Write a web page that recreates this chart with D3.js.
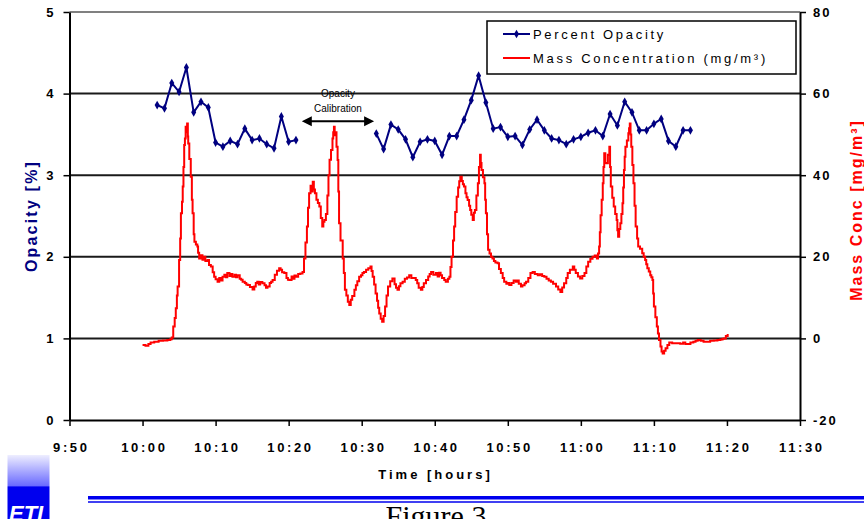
<!DOCTYPE html>
<html>
<head>
<meta charset="utf-8">
<script src="https://cdn.jsdelivr.net/npm/d3@7"></script>
<style>
  html, body { margin: 0; padding: 0; background: #fff; }
  svg { display: block; font-family: Arial, "Liberation Sans", sans-serif; }
</style>
</head>
<body>
<svg id="chart" width="864" height="519"></svg>
<script>
// minutes after 10:00
var xTickMinutes = [-10, 0, 10, 20, 30, 40, 50, 60, 70, 80, 90]
  , xTickLabels = ['9:50', '10:00', '10:10', '10:20', '10:30', '10:40', '10:50', '11:00', '11:10', '11:20', '11:30']
  , opacityTicks = [0, 1, 2, 3, 4, 5]
  , massTicks = [-20, 0, 20, 40, 60, 80]
  ;

// Percent opacity, one reading a minute (null = calibration gap)
var opacityTime = [2, 3, 4, 5, 6, 7, 8, 9, 10, 11, 12, 13, 14, 15, 16, 17, 18, 19, 20, 21,
                   26,
                   32, 33, 34, 35, 36, 37, 38, 39, 40, 41, 42, 43, 44, 45, 46, 47, 48, 49, 50, 51, 52, 53,
                   54, 55, 56, 57, 58, 59, 60, 61, 62, 63, 64, 65, 66, 67, 68, 69, 70, 71, 72, 73, 74, 75]
  , opacityValue = [3.86, 3.82, 4.13, 4.02, 4.32, 3.77, 3.90, 3.83, 3.40, 3.35, 3.42, 3.38, 3.57, 3.43, 3.45, 3.38, 3.33, 3.72, 3.41, 3.43,
                    null,
                    3.51, 3.32, 3.62, 3.56, 3.44, 3.22, 3.41, 3.44, 3.42, 3.25, 3.48, 3.48, 3.68, 3.92, 4.22, 3.89, 3.57, 3.59, 3.47, 3.48, 3.37, 3.56,
                    3.68, 3.55, 3.45, 3.43, 3.38, 3.44, 3.47, 3.52, 3.55, 3.48, 3.75, 3.61, 3.90, 3.77, 3.55, 3.55, 3.63, 3.69, 3.42, 3.35, 3.55, 3.55]
  ;

// Mass concentration (mg/m3)
var massTime = [
    0, 0.4, 0.8, 1.1, 1.6, 2.2, 2.8, 3.4, 3.8, 4.0,
    4.2, 4.4, 4.55, 4.7, 4.8, 5.0, 5.15, 5.25, 5.4, 5.5,
    5.6, 5.7, 5.8, 5.9, 6.0, 6.1, 6.2, 6.25, 6.4, 6.6,
    6.75, 6.85, 7.0, 7.1, 7.3, 7.5, 7.6, 7.75, 8.0, 8.2,
    8.4, 8.6, 8.9, 9.1, 9.35, 9.6, 9.8, 10.0, 10.27, 10.5,
    10.7, 10.95, 11.2, 11.4, 11.6, 11.9, 12.1, 12.3, 12.6, 12.8,
    13.0, 13.3, 13.5, 13.7, 14.0, 14.2, 14.4, 14.7, 15.06, 15.3,
    15.5, 15.7, 15.9, 16.1, 16.4, 16.7, 16.9, 17.1, 17.4, 17.6,
    17.8, 18.1, 18.4, 18.7, 18.9, 19.1, 19.4, 19.7, 19.9, 20.1,
    20.4, 20.6, 20.8, 21.0, 21.3, 21.6, 21.9, 22.1, 22.3, 22.5,
    22.65, 22.8, 23.0, 23.1, 23.3, 23.45, 23.6, 23.8, 24.0, 24.2,
    24.4, 24.6, 24.75, 24.9, 25.1, 25.3, 25.45, 25.6, 25.8, 26.0,
    26.1, 26.2, 26.3, 26.4, 26.55, 26.7, 26.8, 26.9, 27.1, 27.4,
    27.55, 27.7, 27.9, 28.1, 28.3, 28.5, 28.7, 29.0, 29.2, 29.4,
    29.65, 29.9, 30.1, 30.3, 30.6, 30.9, 31.2, 31.35, 31.5, 31.7,
    31.9, 32.1, 32.25, 32.4, 32.6, 32.8, 33.0, 33.2, 33.4, 33.6,
    33.9, 34.2, 34.5, 34.7, 34.9, 35.1, 35.3, 35.6, 35.9, 36.2,
    36.5, 36.8, 37.1, 37.4, 37.6, 37.8, 38.1, 38.3, 38.5, 38.8,
    39.1, 39.3, 39.5, 39.8, 40.15, 40.4, 40.6, 40.8, 41.0, 41.3,
    41.5, 41.8, 42.0, 42.15, 42.3, 42.5, 42.65, 42.8, 43.0, 43.2,
    43.35, 43.5, 43.7, 43.85, 44.0, 44.2, 44.35, 44.5, 44.7, 44.85,
    45.0, 45.2, 45.35, 45.5, 45.7, 45.9, 46.05, 46.2, 46.3, 46.4,
    46.6, 46.8, 46.9, 47.0, 47.15, 47.3, 47.5, 47.7, 47.9, 48.1,
    48.3, 48.6, 48.8, 49.05, 49.3, 49.5, 49.8, 50.0, 50.2, 50.5,
    50.8, 51.1, 51.3, 51.5, 51.8, 52.0, 52.3, 52.5, 52.8, 53.1,
    53.4, 53.7, 54.1, 54.4, 54.7, 55.0, 55.3, 55.6, 55.9, 56.2,
    56.6, 56.9, 57.2, 57.45, 57.7, 58.0, 58.2, 58.5, 58.9, 59.1,
    59.3, 59.6, 59.9, 60.2, 60.5, 60.75, 61.0, 61.3, 61.6, 61.9,
    62.2, 62.35, 62.5, 62.6, 62.7, 62.85, 63.0, 63.1, 63.2, 63.35,
    63.5, 63.7, 63.9, 64.0, 64.1, 64.3, 64.5, 64.7, 64.9, 65.0,
    65.1, 65.25, 65.4, 65.55, 65.7, 65.8, 65.9, 66.0, 66.1, 66.3,
    66.5, 66.6, 66.7, 66.8, 66.9, 67.05, 67.2, 67.35, 67.5, 67.7,
    67.85, 68.1, 68.4, 68.6, 68.8, 68.95, 69.1, 69.3, 69.5, 69.65,
    69.8, 69.9, 70.0, 70.2, 70.4, 70.55, 70.7, 70.9, 71.05, 71.2,
    71.4, 71.6, 71.85, 72.1, 72.5, 72.9, 73.2, 73.6, 74.0, 74.3,
    74.6, 75.0, 75.4, 75.7, 76.0, 76.4, 76.8, 77.3, 77.7, 78.2,
    78.7, 79.1, 79.4, 79.6, 79.85, 80.1
  ]
  , massValue = [
    -1.6, -1.8, -1.4, -1.0, -0.8, -0.6, -0.5, -0.4, -0.2, 0.2,
    2.9, 5.0, 7.4, 10.5, 12.7, 19.2, 24.5, 30.7, 33.5, 37.2,
    42.0, 47.4, 49.0, 51.9, 50.5, 52.7, 49.5, 47.8, 44.0, 39.6,
    34.0, 30.7, 25.5, 23.7, 23.0, 22.5, 21.0, 19.6, 20.4, 19.3,
    20.0, 19.0, 19.2, 18.0, 17.6, 16.2, 15.1, 14.5, 13.9, 14.8,
    14.2, 15.1, 15.6, 15.0, 16.0, 15.3, 15.8, 15.1, 15.6, 15.0,
    15.5, 14.6, 14.4, 13.9, 13.6, 13.2, 13.1, 12.6, 12.0, 12.7,
    13.6, 13.9, 13.2, 13.8, 13.5, 13.0, 12.4, 12.7, 13.6, 13.9,
    14.3, 15.6, 16.6, 17.2, 16.8, 16.2, 16.0, 14.8, 14.4, 14.3,
    15.2, 14.6, 15.4, 15.1, 15.8, 15.9, 16.3, 19.6, 23.5, 27.4,
    32.0, 35.6, 37.4, 36.0, 38.4, 36.5, 35.6, 34.0, 33.2, 32.3,
    29.5, 27.4, 28.6, 29.0, 30.5, 35.0, 40.0, 43.8, 46.2, 49.0,
    50.5, 51.9, 49.8, 50.5, 47.0, 43.7, 36.0, 28.2, 24.0, 19.6,
    16.0, 11.9, 10.5, 9.0, 8.2, 9.5, 10.4, 11.9, 13.0, 14.0,
    15.1, 15.5, 16.0, 16.3, 16.8, 17.2, 17.6, 16.5, 15.1, 13.2,
    11.0, 9.2, 7.5, 6.1, 4.8, 4.1, 5.5, 7.8, 10.5, 12.7,
    14.0, 14.7, 13.3, 12.4, 11.9, 12.8, 13.5, 13.9, 14.6, 14.9,
    15.5, 14.8, 14.8, 14.3, 13.5, 12.4, 11.9, 12.6, 13.5, 14.3,
    15.2, 15.8, 16.3, 15.6, 16.0, 15.2, 16.1, 15.5, 14.8, 14.3,
    13.9, 14.6, 15.1, 17.5, 20.0, 24.0, 27.4, 31.0, 34.7, 37.0,
    38.5, 39.6, 38.6, 37.8, 37.2, 35.6, 34.6, 33.9, 32.5, 31.5,
    30.3, 29.0, 30.8, 31.5, 35.0, 38.0, 42.0, 45.0, 43.0, 41.3,
    39.5, 38.0, 34.0, 30.7, 25.5, 21.7, 20.8, 20.0, 19.6, 19.0,
    18.6, 18.4, 17.0, 16.0, 14.8, 13.9, 13.4, 13.6, 13.1, 13.6,
    14.2, 13.9, 14.2, 13.4, 12.7, 13.0, 13.5, 13.9, 14.8, 16.0,
    16.3, 15.8, 15.5, 15.7, 15.3, 15.1, 14.6, 14.2, 13.9, 13.4,
    12.7, 12.0, 11.4, 12.5, 13.5, 14.8, 16.0, 16.8, 17.6, 16.8,
    16.0, 15.2, 14.7, 15.3, 16.0, 17.6, 18.8, 19.5, 20.0, 20.3,
    19.6, 20.8, 22.5, 26.0, 30.2, 34.0, 38.0, 42.0, 45.4, 43.0,
    42.9, 45.0, 47.0, 42.0, 37.2, 34.5, 32.3, 30.5, 29.0, 26.5,
    24.9, 26.8, 28.2, 30.5, 33.1, 37.0, 41.3, 44.5, 47.0, 48.5,
    50.3, 51.5, 52.7, 50.0, 47.0, 42.5, 38.0, 32.5, 27.4, 24.5,
    22.5, 22.0, 20.9, 20.0, 19.2, 18.2, 17.2, 16.4, 15.5, 15.0,
    14.3, 11.0, 7.8, 5.2, 2.9, 1.2, -0.4, -2.0, -3.2, -3.7,
    -3.0, -2.4, -1.6, -1.0, -1.2, -1.2, -1.2, -1.3, -1.0, -1.4,
    -1.4, -1.0, -0.8, -0.6, -0.4, -0.6, -0.8, -0.8, -0.6, -0.5,
    -0.4, -0.3, -0.1, 0.0, 0.6, 1.1
  ];

// calibration annotation (minutes / opacity level)
var calibStart = 21.8, calibEnd = 31.7, calibLevel = 3.66;

var NAVY = '#000080', RED = '#ff0000', BLUE = '#0000ee'
  , FONT = 'Arial, "Liberation Sans", sans-serif';

var svg = d3.select('#chart')
  , x = d3.scaleLinear().domain([-10, 90]).range([69.5, 800])
  , yOpacity = d3.scaleLinear().domain([0, 5]).range([420, 12])
  , yMass = d3.scaleLinear().domain([-20, 80]).range([420, 12])
  ;

var opacity = opacityTime.map(function(t, i) { return { t: t, v: opacityValue[i] }; })
  , mass = massTime.map(function(t, i) { return { t: t, v: massValue[i] }; })
  ;

// Grid
svg.append('g')
    .attr('class', 'grid')
  .selectAll('line')
  .data(opacityTicks.slice(1))
  .enter().append('line')
    .attr('x1', x(-10))
    .attr('x2', x(90))
    .attr('y1', function(d) { return yOpacity(d); })
    .attr('y2', function(d) { return yOpacity(d); })
    .attr('stroke', function(d) { return d === 5 ? '#808080' : '#1a1a1a'; })
    .attr('stroke-width', 2);

// Mass concentration line (sampled data, drawn as steps)
svg.append('path')
    .datum(mass)
    .attr('fill', 'none')
    .attr('stroke', RED)
    .attr('stroke-width', 2)
    .attr('d', d3.line()
      .curve(d3.curveStepAfter)
      .x(function(d) { return x(d.t); })
      .y(function(d) { return yMass(d.v); }));

// Opacity line + markers
svg.append('path')
    .datum(opacity)
    .attr('fill', 'none')
    .attr('stroke', NAVY)
    .attr('stroke-width', 2)
    .attr('d', d3.line()
      .defined(function(d) { return d.v !== null; })
      .x(function(d) { return x(d.t); })
      .y(function(d) { return yOpacity(d.v); }));

svg.append('g')
  .selectAll('path')
  .data(opacity.filter(function(d) { return d.v !== null; }))
  .enter().append('path')
    .attr('d', d3.symbol().type(d3.symbolDiamond).size(22))
    .attr('transform', function(d) { return 'translate(' + x(d.t) + ',' + yOpacity(d.v) + ')'; })
    .attr('fill', NAVY);

// Axes
function styleAxis (g) {
  g.attr('font-family', FONT).attr('font-size', 13).attr('font-weight', 'bold');
  g.select('.domain').attr('stroke', '#000').attr('stroke-width', 2);
  g.selectAll('.tick line').attr('stroke', '#000').attr('stroke-width', 1.5);
  g.selectAll('.tick text').attr('fill', '#000');
}

svg.append('g')
    .attr('class', 'axis axis--x')
    .attr('transform', 'translate(0,420)')
    .call(d3.axisBottom(x)
      .tickValues(xTickMinutes)
      .tickFormat(function(d, i) { return xTickLabels[i]; })
      .tickSize(6)
      .tickSizeOuter(0))
    .call(styleAxis)
  .selectAll('.tick text')
    .attr('y', 32)
    .attr('dy', 0)
    .attr('dx', '1.3px')
    .style('letter-spacing', '2.6px');

svg.append('g')
    .attr('class', 'axis axis--y')
    .attr('transform', 'translate(69.5,0)')
    .call(d3.axisLeft(yOpacity)
      .tickValues(opacityTicks)
      .tickFormat(function(d) { return String(d); })
      .tickSize(6)
      .tickPadding(10)
      .tickSizeOuter(0))
    .call(styleAxis);

svg.append('g')
    .attr('class', 'axis axis--y2')
    .attr('transform', 'translate(800,0)')
    .call(d3.axisRight(yMass)
      .tickValues(massTicks)
      .tickFormat(function(d) { return String(d); })
      .tickSize(6)
      .tickPadding(7)
      .tickSizeOuter(0))
    .call(styleAxis)
  .selectAll('.tick text')
    .style('letter-spacing', '2px');

// Axis titles
svg.append('text')
    .attr('transform', 'translate(434,479)')
    .attr('text-anchor', 'middle')
    .attr('font-family', FONT)
    .attr('font-size', 13)
    .attr('font-weight', 'bold')
    .attr('dx', '1.5px')
    .style('letter-spacing', '3px')
    .text('Time  [hours]');

svg.append('text')
    .attr('transform', 'translate(36.5,216) rotate(-90)')
    .attr('text-anchor', 'middle')
    .attr('font-family', FONT)
    .attr('font-size', 16)
    .attr('font-weight', 'bold')
    .attr('fill', NAVY)
    .style('letter-spacing', '2.2px')
    .text('Opacity  [%]');

svg.append('text')
    .attr('transform', 'translate(862,210) rotate(-90)')
    .attr('text-anchor', 'middle')
    .attr('font-family', FONT)
    .attr('font-size', 16)
    .attr('font-weight', 'bold')
    .attr('fill', RED)
    .style('letter-spacing', '2px')
    .text('Mass Conc  [mg/m³]');

// Calibration annotation
var ay = yOpacity(calibLevel), ax1 = x(calibStart), ax2 = x(calibEnd);
svg.append('line')
    .attr('x1', ax1 + 8).attr('x2', ax2 - 8)
    .attr('y1', ay).attr('y2', ay)
    .attr('stroke', '#000').attr('stroke-width', 2);
svg.append('path')
    .attr('d', 'M' + ax1 + ',' + ay + 'l10,-5l0,10z' + 'M' + ax2 + ',' + ay + 'l-10,-5l0,10z')
    .attr('fill', '#000');
svg.append('text')
    .attr('x', (ax1 + ax2) / 2).attr('y', ay - 24.5)
    .attr('text-anchor', 'middle')
    .attr('font-family', FONT).attr('font-size', 10)
    .text('Opacity');
svg.append('text')
    .attr('x', (ax1 + ax2) / 2).attr('y', ay - 9.5)
    .attr('text-anchor', 'middle')
    .attr('font-family', FONT).attr('font-size', 10)
    .text('Calibration');

// Legend
var legend = svg.append('g').attr('transform', 'translate(487,21)');
legend.append('rect')
    .attr('width', 309).attr('height', 53)
    .attr('fill', '#fff').attr('stroke', '#000').attr('stroke-width', 1.5);
legend.append('line')
    .attr('x1', 16).attr('x2', 43).attr('y1', 13).attr('y2', 13)
    .attr('stroke', NAVY).attr('stroke-width', 2);
legend.append('path')
    .attr('d', d3.symbol().type(d3.symbolDiamond).size(22))
    .attr('transform', 'translate(29.5,13)')
    .attr('fill', NAVY);
legend.append('line')
    .attr('x1', 16).attr('x2', 43).attr('y1', 37).attr('y2', 37)
    .attr('stroke', RED).attr('stroke-width', 2);
legend.selectAll('text')
    .data(['Percent Opacity', 'Mass Concentration (mg/m³)'])
    .enter().append('text')
    .attr('x', 46)
    .attr('y', function(d, i) { return 18 + i * 23.5; })
    .attr('font-family', FONT)
    .attr('font-size', 13)
    .style('letter-spacing', '2.7px')
    .text(function(d) { return d; });

// Footer: logo, rule and caption
var defs = svg.append('defs');
var grad = defs.append('linearGradient')
    .attr('id', 'logoGrad').attr('x1', 0).attr('y1', 0).attr('x2', 0).attr('y2', 1);
grad.append('stop').attr('offset', 0).attr('stop-color', '#eeeeff');
grad.append('stop').attr('offset', 0.48).attr('stop-color', '#6a6aff');
grad.append('stop').attr('offset', 0.5).attr('stop-color', BLUE);
grad.append('stop').attr('offset', 1).attr('stop-color', BLUE);

svg.append('rect')
    .attr('x', 7.5).attr('y', 455).attr('width', 42).attr('height', 64)
    .attr('fill', 'url(#logoGrad)');
svg.append('text')
    .attr('x', 9).attr('y', 521)
    .attr('font-family', FONT).attr('font-size', 22)
    .attr('font-weight', 'bold').attr('font-style', 'italic')
    .attr('fill', '#fff')
    .text('ETI');

svg.append('line')
    .attr('x1', 88).attr('x2', 864).attr('y1', 497.7).attr('y2', 497.7)
    .attr('stroke', BLUE).attr('stroke-width', 3.5);
svg.append('line')
    .attr('x1', 88).attr('x2', 864).attr('y1', 502).attr('y2', 502)
    .attr('stroke', BLUE).attr('stroke-width', 1.5);

svg.append('text')
    .attr('x', 436).attr('y', 526)
    .attr('text-anchor', 'middle')
    .attr('font-family', '"Liberation Serif", "Times New Roman", serif')
    .attr('font-size', 30)
    .text('Figure 3');
</script>
</body>
</html>
